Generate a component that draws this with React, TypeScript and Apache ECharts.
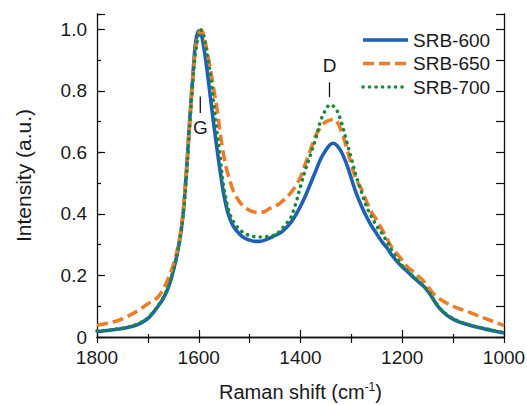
import React, { useEffect, useRef } from "react";
import * as echarts from "echarts";

// Raman shift grid (cm^-1)
const ramanShift = [
  1800, 1780, 1760, 1740, 1720, 1700, 1690, 1680, 1670, 1660,
  1650, 1640, 1632, 1625, 1618, 1612, 1606, 1600, 1596, 1592,
  1588, 1582, 1576, 1570, 1564, 1558, 1552, 1546, 1540, 1532,
  1520, 1510, 1500, 1490, 1480, 1470, 1460, 1450, 1440, 1430,
  1420, 1410, 1400, 1390, 1380, 1370, 1360, 1350, 1342, 1335,
  1328, 1320, 1310, 1300, 1290, 1280, 1270, 1260, 1250, 1240,
  1230, 1220, 1210, 1200, 1190, 1180, 1170, 1160, 1150, 1140,
  1130, 1120, 1110, 1100, 1090, 1080, 1060, 1040, 1020, 1000,
];

const srb600 = [
  0.018, 0.021, 0.025, 0.031, 0.04, 0.06, 0.078, 0.1, 0.125, 0.16,
  0.215, 0.29, 0.38, 0.52, 0.7, 0.84, 0.96, 0.995, 0.99, 0.96,
  0.92, 0.845, 0.765, 0.685, 0.61, 0.54, 0.475, 0.425, 0.39, 0.36,
  0.335, 0.322, 0.315, 0.311, 0.311, 0.315, 0.322, 0.33, 0.338, 0.352,
  0.37, 0.395, 0.425, 0.46, 0.5, 0.54, 0.58, 0.608, 0.625, 0.63,
  0.622, 0.603, 0.565, 0.515, 0.465, 0.425, 0.39, 0.36, 0.335, 0.31,
  0.29, 0.265, 0.245, 0.228, 0.213, 0.197, 0.182, 0.168, 0.15, 0.125,
  0.1, 0.082, 0.068, 0.058, 0.05, 0.045, 0.035, 0.027, 0.02, 0.013,
];

const srb650 = [
  0.038, 0.045, 0.053, 0.067, 0.085, 0.108, 0.118, 0.13, 0.155, 0.19,
  0.235, 0.3, 0.39, 0.52, 0.69, 0.83, 0.94, 0.985, 0.998, 0.99,
  0.965, 0.915, 0.86, 0.8, 0.74, 0.665, 0.6, 0.55, 0.515, 0.475,
  0.44, 0.422, 0.412, 0.406, 0.404, 0.408, 0.418, 0.425, 0.435, 0.45,
  0.467, 0.49, 0.52, 0.565, 0.61, 0.655, 0.683, 0.7, 0.705, 0.708,
  0.7, 0.67, 0.62, 0.56, 0.51, 0.48, 0.44, 0.405, 0.38, 0.35,
  0.32, 0.29, 0.27, 0.25, 0.228, 0.215, 0.2, 0.185, 0.165, 0.143,
  0.128, 0.117, 0.108, 0.1, 0.093, 0.088, 0.075, 0.062, 0.05, 0.037,
];

const srb700 = [
  0.02, 0.022, 0.026, 0.032, 0.042, 0.062, 0.08, 0.102, 0.128, 0.163,
  0.215, 0.29, 0.375, 0.5, 0.68, 0.82, 0.93, 0.985, 0.998, 0.99,
  0.96, 0.905, 0.84, 0.75, 0.665, 0.585, 0.5, 0.445, 0.405, 0.375,
  0.35, 0.337, 0.33, 0.326, 0.325, 0.326, 0.328, 0.332, 0.345, 0.365,
  0.385, 0.43, 0.49, 0.545, 0.595, 0.645, 0.705, 0.74, 0.755, 0.75,
  0.735, 0.7, 0.64, 0.58, 0.52, 0.47, 0.423, 0.39, 0.36, 0.337,
  0.31, 0.28, 0.255, 0.232, 0.215, 0.2, 0.185, 0.17, 0.152, 0.127,
  0.102, 0.083, 0.07, 0.06, 0.052, 0.046, 0.036, 0.028, 0.021, 0.014,
];

const seriesNames = ["SRB-600", "SRB-650", "SRB-700"];

// Peak annotations: label, shift, tick top, tick bottom, label y
const peakLabels = ["G", "D"];
const peakShift = [1597, 1343];
const peakTickTop = [0.782, 0.828];
const peakTickBottom = [0.728, 0.78];
const peakTextY = [0.68, 0.883];

const FONT = "'Liberation Sans', Arial, Helvetica, sans-serif";
const TXT = "#1a1a1a";
const COLORS = ["#1f5fb5", "#ec7d2c", "#168a3c"];
const DASHES: any[] = [null, [11, 5], [0.1, 6.4]];
const CAPS = ["butt", "butt", "round"];

export default function App() {
  const ref = useRef<HTMLDivElement>(null);

  useEffect(() => {
    if (!ref.current) return;
    const chart = echarts.init(ref.current, null, { renderer: "svg" });

    const pairs = (ys: number[]) => ramanShift.map((x, i) => [x, ys[i]]);
    const values = [srb600, srb650, srb700];

    const axisLine = { show: true, lineStyle: { color: "#111", width: 1.3 } };

    const option: any = {
      animation: false,
      backgroundColor: "#ffffff",
      textStyle: { fontFamily: FONT },
      grid: { left: 97, right: 23, top: 14, bottom: 68, outerBoundsMode: "none", containLabel: false },
      xAxis: [
        {
          type: "value",
          position: "bottom",
          min: 1000,
          max: 1800,
          interval: 200,
          inverse: true,
          axisLine,
          axisTick: { show: true, inside: true, length: 7, lineStyle: { color: "#111", width: 1.2 } },
          minorTick: { show: true, splitNumber: 2, length: 3, lineStyle: { color: "#111", width: 1.2 } },
          axisLabel: {
            fontSize: 19,
            color: TXT,
            margin: 11,
            fontFamily: FONT,
            formatter: (v: number) => String(Math.round(v)),
          },
          splitLine: { show: false },
          name: "Raman shift (cm{sup|-1})",
          nameLocation: "middle",
          nameGap: 44,
          nameTextStyle: {
            fontSize: 20,
            color: TXT,
            fontFamily: FONT,
            lineHeight: 22,
            rich: { sup: { fontSize: 12, verticalAlign: "top", color: TXT, fontFamily: FONT, lineHeight: 22, padding: [0, 0, 8, 0] } },
          },
        },
        {
          type: "value",
          position: "top",
          min: 1000,
          max: 1800,
          interval: 100,
          inverse: true,
          axisLine,
          axisTick: { show: true, inside: true, length: 6, lineStyle: { color: "#111", width: 1.2 } },
          axisLabel: { show: false },
          splitLine: { show: false },
        },
      ],
      yAxis: [
        {
          type: "value",
          position: "left",
          min: 0,
          max: 1.05,
          interval: 0.2,
          axisLine,
          axisTick: { show: true, inside: true, length: 8, lineStyle: { color: "#111", width: 1.2 } },
          axisLabel: {
            fontSize: 19,
            color: TXT,
            margin: 10,
            fontFamily: FONT,
            formatter: (v: number) => {
              if (Math.abs(v) < 1e-9) return "0";
              const r = Math.round(v * 10) / 10;
              if (Math.abs(r - v) > 1e-6) return "";
              return r.toFixed(1);
            },
          },
          splitLine: { show: false },
          name: "Intensity (a.u.)",
          nameLocation: "middle",
          nameGap: 63,
          nameTextStyle: { fontSize: 21, color: TXT, fontFamily: FONT },
        },
        {
          type: "value",
          position: "left",
          min: 0,
          max: 1.05,
          interval: 0.1,
          axisLine: { show: false },
          axisTick: { show: true, inside: true, length: 4, lineStyle: { color: "#111", width: 1.2 } },
          axisLabel: { show: false },
          splitLine: { show: false },
        },
        {
          type: "value",
          position: "right",
          min: 0,
          max: 1.05,
          interval: 0.1,
          axisLine,
          axisTick: { show: true, inside: true, length: 8, lineStyle: { color: "#111", width: 1.2 } },
          axisLabel: { show: false },
          splitLine: { show: false },
        },
      ],
      series: seriesNames.map((name, i) => ({
        name,
        type: "line",
        data: pairs(values[i]),
        xAxisIndex: 0,
        yAxisIndex: 0,
        symbol: "none",
        smooth: 0.35,
        itemStyle: { color: COLORS[i] },
        lineStyle: {
          color: COLORS[i],
          width: 3.6,
          type: DASHES[i] || "solid",
          cap: CAPS[i],
        },
        z: 2 + i,
      })),
    };

    chart.setOption(option);

    const graphics: any[] = [];
    peakLabels.forEach((lab, i) => {
      const top = chart.convertToPixel({ xAxisIndex: 0, yAxisIndex: 0 }, [peakShift[i], peakTickTop[i]]);
      const bot = chart.convertToPixel({ xAxisIndex: 0, yAxisIndex: 0 }, [peakShift[i], peakTickBottom[i]]);
      const txt = chart.convertToPixel({ xAxisIndex: 0, yAxisIndex: 0 }, [peakShift[i], peakTextY[i]]);
      graphics.push({
        type: "line",
        shape: { x1: top[0], y1: top[1], x2: bot[0], y2: bot[1] },
        style: { stroke: "#111", lineWidth: 1.3 },
        z: 10,
      });
      graphics.push({
        type: "text",
        x: txt[0],
        y: txt[1],
        style: {
          text: lab,
          fontSize: 19,
          fontFamily: FONT,
          fill: TXT,
          align: "center",
          verticalAlign: "middle",
        },
        z: 10,
      });
    });

    // Legend (line samples + names)
    const legendX = 363;
    const legendY0 = 40;
    const legendStep = 23.5;
    seriesNames.forEach((name, i) => {
      const y = legendY0 + i * legendStep;
      const style: any = { stroke: COLORS[i], lineWidth: 3.6, lineCap: CAPS[i] };
      if (DASHES[i]) style.lineDash = DASHES[i];
      graphics.push({
        type: "line",
        shape: { x1: legendX, y1: y, x2: legendX + 45, y2: y },
        style,
        z: 10,
      });
      graphics.push({
        type: "text",
        x: legendX + 50,
        y,
        style: {
          text: name,
          fontSize: 19,
          fontFamily: FONT,
          fill: TXT,
          align: "left",
          verticalAlign: "middle",
        },
        z: 10,
      });
    });

    chart.setOption({ graphic: graphics });

    return () => chart.dispose();
  }, []);

  return (
    <div
      ref={ref}
      style={{ position: "fixed", left: 0, top: 0, width: 527, height: 405, background: "#fff" }}
    />
  );
}
